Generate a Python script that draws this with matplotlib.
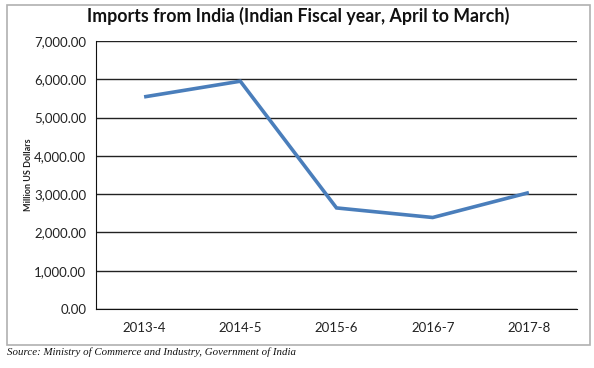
import matplotlib
matplotlib.use("Agg")
import matplotlib.pyplot as plt
from matplotlib.patches import Rectangle
from matplotlib.ticker import FuncFormatter, MultipleLocator

categories = ["2013-4", "2014-5", "2015-6", "2016-7", "2017-8"]
imports = [5540, 5950, 2640, 2390, 3040]

W, H = 594, 368
fig = plt.figure(figsize=(W / 100, H / 100), dpi=100)
fig.patch.set_facecolor("white")

# outer chart frame
fig.patches.append(Rectangle((7 / W, 1 - 345 / H), (590 - 7) / W, (345 - 4.5) / H,
                             transform=fig.transFigure, fill=False,
                             edgecolor="#b0b0b0", linewidth=1.2))

ax = fig.add_axes([96 / W, 1 - 309 / H, (577 - 96) / W, (309 - 41) / H])
x = list(range(len(categories)))
ax.plot(x, imports, color="#4a7ebb", linewidth=2.6, solid_capstyle="butt",
        solid_joinstyle="miter")
ax.set_xlim(-0.5, len(categories) - 0.5)
ax.set_ylim(0, 7000)
ax.yaxis.set_major_locator(MultipleLocator(1000))
ax.yaxis.set_major_formatter(FuncFormatter(lambda v, p: f"{v:,.2f}"))
ax.set_xticks(x)
ax.set_xticklabels(categories)
ax.grid(axis="y", color="#222222", linewidth=1.0)
ax.set_axisbelow(True)
for s in ["top", "right"]:
    ax.spines[s].set_visible(False)
ax.spines["left"].set_color("#111111")
ax.spines["bottom"].set_color("#111111")
ax.tick_params(axis="both", length=0, labelsize=9.5, colors="#222222",
               labelfontfamily="Lato")
ax.tick_params(axis="y", pad=7)
ax.tick_params(axis="x", pad=9)

fig.text(29 / W, 1 - 175 / H, "Million US Dollars", rotation=90, ha="center",
         va="center", fontsize=6.5, fontweight="bold", family="Lato", color="#222222")
fig.text(298.5 / W, 1 - 16 / H, "Imports from India (Indian Fiscal year, April to March)",
         ha="center", va="center", fontsize=12.8, fontweight="bold", family="Lato",
         color="#111111")
fig.text(7 / W, 1 - 352.5 / H, "Source: Ministry of Commerce and Industry, Government of India",
         ha="left", va="center", fontsize=7.8, style="italic",
         family="Liberation Serif", color="#111111")

fig.savefig("out.png", dpi=100)
